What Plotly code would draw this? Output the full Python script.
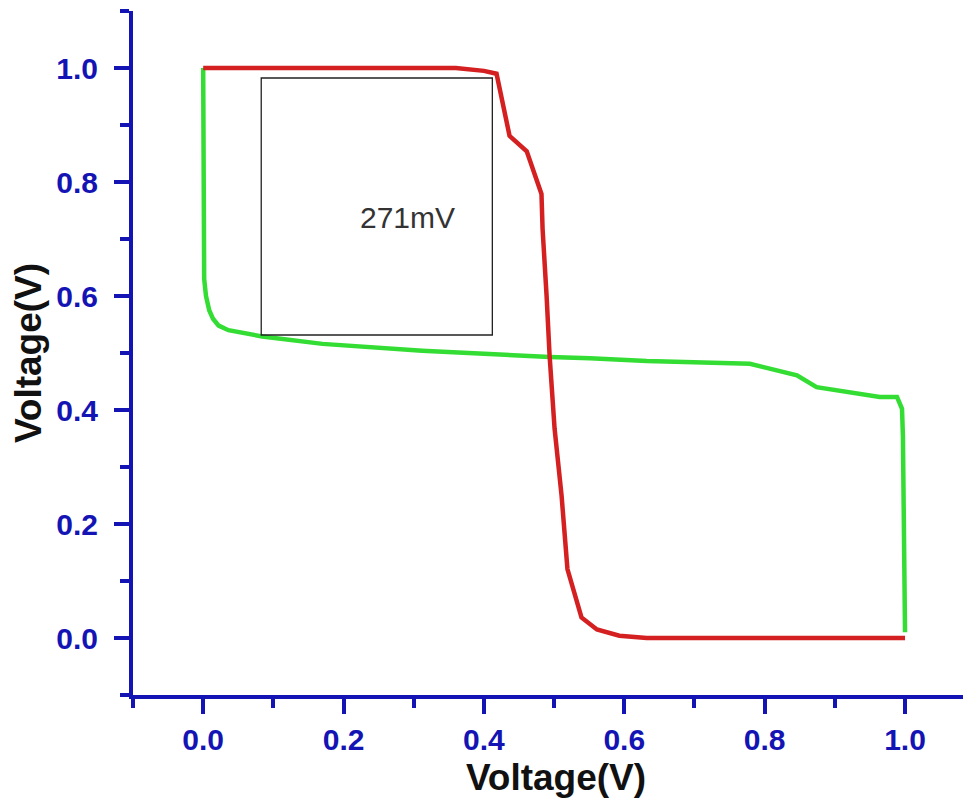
import plotly.graph_objects as go

# Red curve (charge-like sweep)
red_x = [0.0, 0.10, 0.20, 0.30, 0.36, 0.40, 0.418, 0.4365, 0.461, 0.482, 0.4836,
         0.4893, 0.4936, 0.5007, 0.5107, 0.519, 0.532, 0.539, 0.561, 0.593, 0.632, 0.80, 1.0]
red_y = [1.0, 1.0, 1.0, 1.0, 1.0, 0.995, 0.99, 0.881, 0.854, 0.779, 0.7175,
         0.600, 0.495, 0.367, 0.249, 0.121, 0.068, 0.036, 0.015, 0.004, 0.0, 0.0, 0.0]

# Green curve
green_x = [0.0, 0.0, 0.0014, 0.004, 0.0086, 0.014, 0.022, 0.036, 0.055, 0.084, 0.17, 0.312,
           0.494, 0.551, 0.632, 0.693, 0.779, 0.846, 0.874, 0.964, 0.9886, 0.9957, 0.997, 1.0]
green_y = [1.0, 0.70, 0.63, 0.60, 0.575, 0.560, 0.548, 0.540, 0.535, 0.529, 0.516, 0.504,
           0.493, 0.491, 0.486, 0.484, 0.481, 0.461, 0.440, 0.423, 0.423, 0.402, 0.354, 0.01]

# Annotation box and label
box_x = [0.0827, 0.412]
box_y = [0.5316, 0.9825]
label_text = "271mV"
label_pos = [0.291, 0.7386]

tick_vals = [0.0, 0.2, 0.4, 0.6, 0.8, 1.0]
tick_text = ["0.0", "0.2", "0.4", "0.6", "0.8", "1.0"]

AX = "#1414b4"
FONT = "Liberation Sans, Arial, sans-serif"

fig = go.Figure()
fig.add_trace(go.Scatter(x=green_x, y=green_y, mode="lines",
                         line=dict(color="#33dd33", width=4.5), showlegend=False))
fig.add_trace(go.Scatter(x=red_x, y=red_y, mode="lines",
                         line=dict(color="#d42020", width=4.5), showlegend=False))

fig.add_shape(type="rect", x0=box_x[0], x1=box_x[1], y0=box_y[0], y1=box_y[1],
              xref="x", yref="y", line=dict(color="#222222", width=1.3))
fig.add_annotation(x=label_pos[0], y=label_pos[1], text=label_text, showarrow=False,
                   xref="x", yref="y", font=dict(family=FONT, size=30, color="#333333"))

axis_common = dict(
    showline=True, linecolor=AX, linewidth=4,
    ticks="outside", ticklen=15, tickwidth=4, tickcolor=AX,
    tickvals=tick_vals, ticktext=tick_text,
    tickfont=dict(family=FONT, size=30, color=AX, weight="bold"),
    showgrid=False, zeroline=False,
    minor=dict(dtick=0.1, tick0=0, ticks="outside", ticklen=9, tickwidth=4, tickcolor=AX),
)

fig.update_xaxes(range=[-0.1, 1.1054],
                 title=dict(text="<b>Voltage(V)</b>", standoff=10,
                            font=dict(family=FONT, size=37, color="#111111")),
                 **axis_common)
fig.update_yaxes(range=[-0.1, 1.1], ticklabelstandoff=10,
                 title=dict(text="<b>Voltage(V)</b>", standoff=7,
                            font=dict(family=FONT, size=37, color="#111111")),
                 **axis_common)

fig.update_layout(width=971, height=804,
                  margin=dict(l=125, r=0, t=3, b=117),
                  plot_bgcolor="white", paper_bgcolor="white")

fig.write_html("out.html")
